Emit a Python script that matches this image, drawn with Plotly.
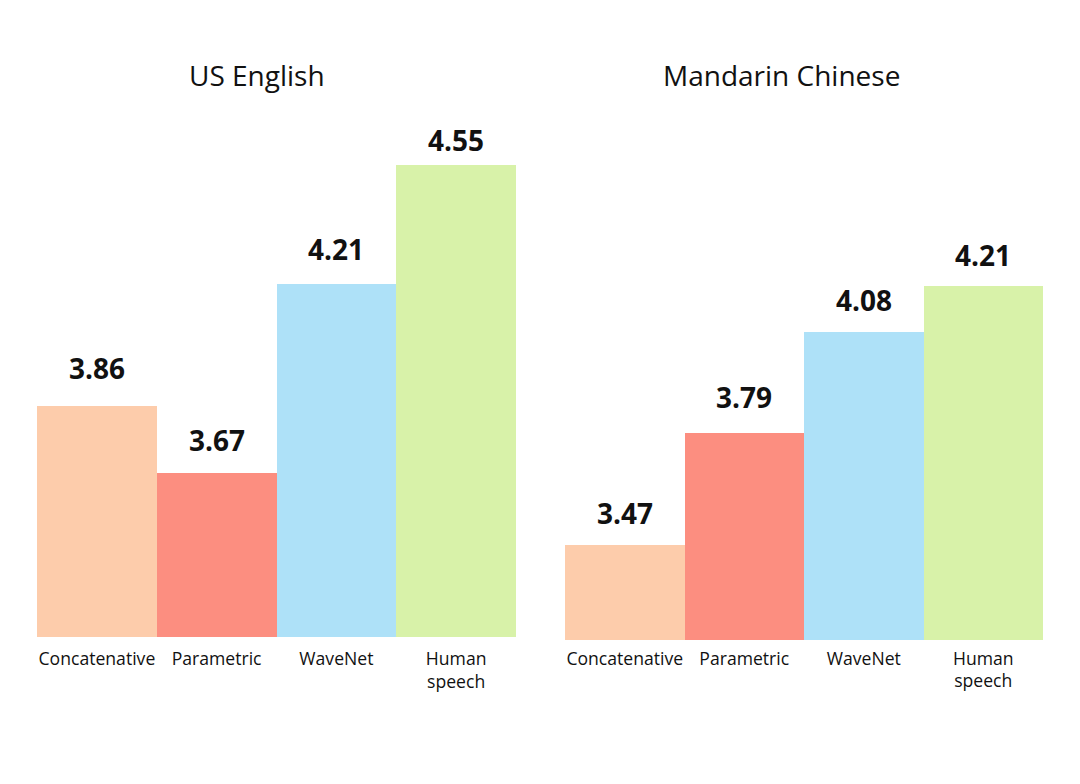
import plotly.graph_objects as go

categories = ["Concatenative", "Parametric", "WaveNet", "Human<br>speech"]
us_english = [3.86, 3.67, 4.21, 4.55]
mandarin = [3.47, 3.79, 4.08, 4.21]
bar_colors = ["#FDCCAB", "#FC8E80", "#AEE1F8", "#D8F2A9"]
titles = ["US English", "Mandarin Chinese"]

# style: distance (px) from bar top to the centre of each value label
label_gap_us = [38, 33, 34, 24]
label_gap_cn = [32, 36, 32, 32]

FONT = "Open Sans"
W, H = 1072, 776  # page body has an 8px margin
fig = go.Figure()
fig.add_trace(go.Bar(x=categories, y=us_english, marker_color=bar_colors, marker_line_width=0,
                     xaxis="x", yaxis="y", base=0, hoverinfo="skip"))
fig.add_trace(go.Bar(x=categories, y=mandarin, marker_color=bar_colors, marker_line_width=0,
                     xaxis="x2", yaxis="y2", base=0, hoverinfo="skip"))

ann = []
for xa, ya, vals, gaps in [("x", "y", us_english, label_gap_us), ("x2", "y2", mandarin, label_gap_cn)]:
    for c, v, g in zip(categories, vals, gaps):
        ann.append(dict(x=c, y=v, xref=xa, yref=ya, text=f"{v:.2f}", showarrow=False,
                        xanchor="center", yanchor="middle", yshift=g,
                        font=dict(family=FONT, size=28, color="#111111", weight="bold")))
ann.append(dict(x=0.2323, y=0.9137, xref="paper", yref="paper", text=titles[0], showarrow=False,
                xanchor="center", yanchor="middle", font=dict(family=FONT, size=28, color="#111111")))
ann.append(dict(x=0.7211, y=0.9137, xref="paper", yref="paper", text=titles[1], showarrow=False,
                xanchor="center", yanchor="middle", font=dict(family=FONT, size=28, color="#111111")))

axis_common = dict(showgrid=False, zeroline=False, showline=False, ticks="")
fig.update_layout(
    width=W, height=H,
    margin=dict(l=0, r=0, t=0, b=0),
    paper_bgcolor="white", plot_bgcolor="white",
    showlegend=False, bargap=0,
    font=dict(family=FONT, size=17.6, color="#111111"),
    xaxis=dict(domain=[0.02705, 0.4739], anchor="y", tickfont=dict(size=17.6),
               ticklabelstandoff=9, **axis_common),
    xaxis2=dict(domain=[0.5196, 0.9655], anchor="y2", tickfont=dict(size=17.6),
                ticklabelstandoff=6, **axis_common),
    yaxis=dict(domain=[0.1894, 0.9111], range=[3.2, 4.8], anchor="x", showticklabels=False, **axis_common),
    yaxis2=dict(domain=[0.1856, 0.9072], range=[3.2, 4.8], anchor="x2", showticklabels=False, **axis_common),
    annotations=ann,
)
fig.write_html("out.html")
